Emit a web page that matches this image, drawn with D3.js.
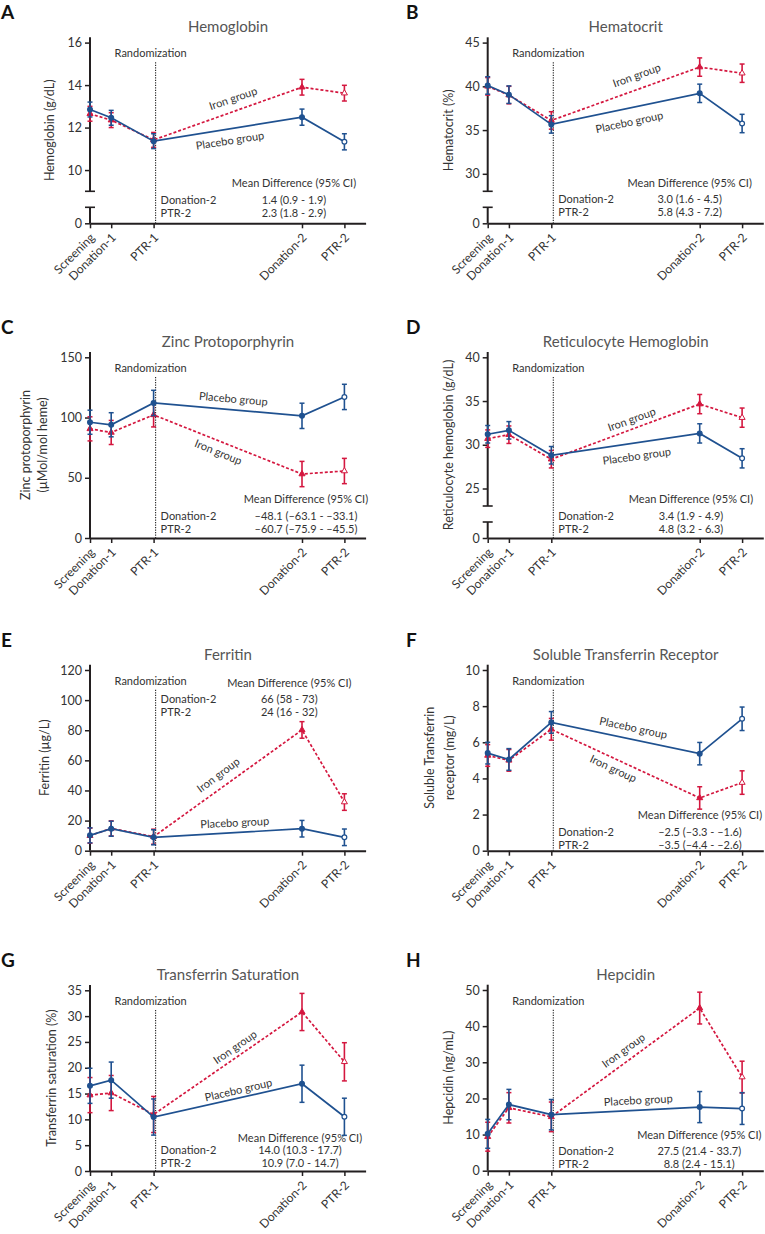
<!DOCTYPE html>
<html><head><meta charset="utf-8">
<script src="https://cdn.jsdelivr.net/npm/d3@7"></script>
<style>
body{margin:0;background:#fff}
svg{display:block}
text{font-family:Lato,"Open Sans",sans-serif}
</style>
</head><body>
<svg id="chart" width="765" height="1234"></svg>
<script>
// ---------- data ----------
const timepoints = ["Screening", "Donation-1", "PTR-1", "Donation-2", "PTR-2"];
const timeOffsets = [0, 1, 3, 10, 12];

const hbPlacebo = [12.85, 12.46, 11.36, 12.49, 11.33];
const hbPlaceboErr = [0.35, 0.35, 0.35, 0.38, 0.38];
const hbIron = [12.65, 12.35, 11.42, 13.9, 13.62];
const hbIronErr = [0.35, 0.35, 0.35, 0.37, 0.37];

const hctPlacebo = [40.1, 39.05, 35.65, 39.2, 35.75];
const hctPlaceboErr = [1.0, 1.0, 1.0, 1.05, 1.05];
const hctIron = [40.0, 39.0, 36.1, 42.2, 41.5];
const hctIronErr = [1.0, 1.0, 1.0, 1.05, 1.05];

const zppPlacebo = [96.1, 94.0, 112.1, 101.4, 117.1];
const zppPlaceboErr = [10, 10, 10.5, 10.5, 10.5];
const zppIron = [90.6, 87.6, 102.2, 53.1, 55.6];
const zppIronErr = [10, 10, 10, 10.5, 10.5];

const retPlacebo = [31.2, 31.65, 28.8, 31.3, 28.45];
const retPlaceboErr = [1.0, 1.0, 1.0, 1.1, 1.1];
const retIron = [30.7, 31.15, 28.35, 34.65, 33.1];
const retIronErr = [1.0, 1.0, 1.0, 1.1, 1.1];

const ferPlacebo = [10.2, 14.6, 8.9, 14.6, 8.9];
const ferPlaceboErr = [5, 5, 5, 5.5, 5.5];
const ferIron = [10.0, 14.8, 9.3, 80.2, 32.3];
const ferIronErr = [5, 5, 5, 5.5, 5.5];

const stfrPlacebo = [5.4, 5.05, 7.1, 5.37, 7.3];
const stfrPlaceboErr = [0.6, 0.6, 0.6, 0.62, 0.65];
const stfrIron = [5.27, 5.0, 6.72, 2.92, 3.77];
const stfrIronErr = [0.6, 0.6, 0.6, 0.62, 0.65];

const tsatPlacebo = [16.5, 17.6, 10.45, 16.9, 10.5];
const tsatPlaceboErr = [3.4, 3.5, 3.5, 3.6, 3.6];
const tsatIron = [14.7, 15.1, 10.95, 30.8, 21.15];
const tsatIronErr = [3.4, 3.4, 3.5, 3.6, 3.7];

const hepPlacebo = [10.2, 18.3, 15.5, 17.6, 17.2];
const hepPlaceboErr = [4.0, 4.2, 4.2, 4.3, 4.4];
const hepIron = [9.4, 17.4, 14.9, 45.0, 25.9];
const hepIronErr = [4.0, 4.2, 4.1, 4.4, 4.4];

const diffRowLabels = ["Donation-2", "PTR-2"];
const diffHeader = "Mean Difference (95% CI)";

const hbTicks = [10, 12, 14, 16];
const hctTicks = [30, 35, 40, 45];
const zppTicks = [0, 50, 100, 150];
const retTicks = [25, 30, 35, 40];
const ferTicks = [0, 20, 40, 60, 80, 100, 120];
const stfrTicks = [0, 2, 4, 6, 8, 10];
const tsatTicks = [0, 5, 10, 15, 20, 25, 30, 35];
const hepTicks = [0, 10, 20, 30, 40, 50];

const panels = [
  {letter:"A", title:"Hemoglobin", ylabel:["Hemoglobin (g/dL)"], ticks:hbTicks, breakAt:9,
   placebo:hbPlacebo, placeboErr:hbPlaceboErr, iron:hbIron, ironErr:hbIronErr,
   diff:["1.4 (0.9 - 1.9)", "2.3 (1.8 - 2.9)"]},
  {letter:"B", title:"Hematocrit", ylabel:["Hematocrit (%)"], ticks:hctTicks, breakAt:28,
   placebo:hctPlacebo, placeboErr:hctPlaceboErr, iron:hctIron, ironErr:hctIronErr,
   diff:["3.0 (1.6 - 4.5)", "5.8 (4.3 - 7.2)"]},
  {letter:"C", title:"Zinc Protoporphyrin", ylabel:["Zinc protoporphyrin", "(\u00b5Mol/mol heme)"], ticks:zppTicks, breakAt:null,
   placebo:zppPlacebo, placeboErr:zppPlaceboErr, iron:zppIron, ironErr:zppIronErr,
   diff:["\u201348.1 (\u201363.1 - \u201333.1)", "\u201360.7 (\u201375.9 - \u201345.5)"]},
  {letter:"D", title:"Reticulocyte Hemoglobin", ylabel:["Reticulocyte hemoglobin (g/dL)"], ticks:retTicks, breakAt:23,
   placebo:retPlacebo, placeboErr:retPlaceboErr, iron:retIron, ironErr:retIronErr,
   diff:["3.4 (1.9 - 4.9)", "4.8 (3.2 - 6.3)"]},
  {letter:"E", title:"Ferritin", ylabel:["Ferritin (\u00b5g/L)"], ticks:ferTicks, breakAt:null,
   placebo:ferPlacebo, placeboErr:ferPlaceboErr, iron:ferIron, ironErr:ferIronErr,
   diff:["66 (58 - 73)", "24 (16 - 32)"]},
  {letter:"F", title:"Soluble Transferrin Receptor", ylabel:["Soluble Transferrin", "receptor (mg/L)"], ticks:stfrTicks, breakAt:null,
   placebo:stfrPlacebo, placeboErr:stfrPlaceboErr, iron:stfrIron, ironErr:stfrIronErr,
   diff:["\u20132.5 (\u20133.3 - \u20131.6)", "\u20133.5 (\u20134.4 - \u20132.6)"]},
  {letter:"G", title:"Transferrin Saturation", ylabel:["Transferrin saturation (%)"], ticks:tsatTicks, breakAt:null,
   placebo:tsatPlacebo, placeboErr:tsatPlaceboErr, iron:tsatIron, ironErr:tsatIronErr,
   diff:["14.0 (10.3 - 17.7)", "10.9 (7.0 - 14.7)"]},
  {letter:"H", title:"Hepcidin", ylabel:["Hepcidin (ng/mL)"], ticks:hepTicks, breakAt:null,
   placebo:hepPlacebo, placeboErr:hepPlaceboErr, iron:hepIron, ironErr:hepIronErr,
   diff:["27.5 (21.4 - 33.7)", "8.8 (2.4 - 15.1)"]}
];

// ---------- layout (positions / styles only) ----------
const layout = [
  {col:0, bottom:223.3, ylabX:[-40], diffX:204, headDy:-40, rowDy:-23,
   ironLab:{w:6.75, v:13.37, r:-19}, placLab:{w:6.6, v:11.39, r:-9}},
  {col:1, bottom:223.3, ylabX:[-39.4], diffX:202, headDy:-40.6, rowDy:-24,
   ironLab:{w:7.03, v:41.26, r:-20}, placLab:{w:6.68, v:35.9, r:-12}},
  {col:0, bottom:538, ylabX:[-64,-47], diffX:216, headDy:-38.7, rowDy:-21.7,
   ironLab:{w:6.05, v:71.3, r:22}, placLab:{w:6.76, v:115.5, r:5}},
  {col:1, bottom:538, ylabX:[-39.4], diffX:203.3, headDy:-38.7, rowDy:-21.7,
   ironLab:{w:6.79, v:32.9, r:-20}, placLab:{w:7.03, v:28.7, r:-8}},
  {col:0, bottom:850.7, ylabX:[-45], diffX:199.3, headDy:-168, rowDy:-151.4,
   ironLab:{w:6.05, v:50.3, r:-37}, placLab:{w:6.83, v:18.6, r:-3}},
  {col:1, bottom:850.7, ylabX:[-57.7,-37.7], diffX:212.3, headDy:-36, rowDy:-19,
   ironLab:{w:5.92, v:4.54, r:25}, placLab:{w:6.87, v:6.8, r:12}},
  {col:0, bottom:1171, ylabX:[-38.3], diffX:210, headDy:-33.3, rowDy:-21,
   ironLab:{w:6.84, v:24.0, r:-35}, placLab:{w:7.0, v:15.7, r:-13}},
  {col:1, bottom:1170.7, ylabX:[-39.4], diffX:211.6, headDy:-35.7, rowDy:-20,
   ironLab:{w:6.4, v:33.25, r:-36}, placLab:{w:7.1, v:19.5, r:-3}}
];

const BLUE = "#1f5190";
const RED = "#d4173f";
const AXIS = "#231f20";
const PLOT_H = 186;
const X_W = 275.6;

const svg = d3.select("#chart");

panels.forEach((p, i) => {
  const L = layout[i];
  const ax = L.col === 0 ? 90 : 487.7;
  const B = L.bottom;
  const T = B - PLOT_H;
  const g = svg.append("g");

  const x = d3.scaleLinear().domain([0, 13]).range([ax, ax + X_W]);
  const maxTick = d3.max(p.ticks);
  const y = p.breakAt !== null
    ? d3.scaleLinear().domain([p.breakAt, maxTick]).range([B - 32, T + 5.3])
    : d3.scaleLinear().domain([0, maxTick]).range([B, T + 5.3]);

  // panel letter
  g.append("text").attr("x", L.col === 0 ? 1 : 406).attr("y", T - 18)
    .attr("font-family", "Liberation Sans, Arial, sans-serif")
    .attr("font-weight", "bold").attr("font-size", 19).attr("fill", "#111")
    .text(p.letter);

  // title
  g.append("text").attr("x", ax + 138).attr("y", T - 5)
    .attr("text-anchor", "middle").attr("font-size", 15).attr("fill", "#555")
    .text(p.title);

  // y axis
  const yAxis = g.append("g").attr("transform", `translate(${ax},0)`)
    .call(d3.axisLeft(y).tickValues(p.ticks).tickSize(5).tickPadding(3).tickFormat(d3.format("d")));
  yAxis.select(".domain").remove();
  if (p.breakAt !== null) {
    const yLow = d3.scaleLinear().domain([0, 1]).range([B, B - 16]);
    const yAxisLow = g.append("g").attr("transform", `translate(${ax},0)`)
      .call(d3.axisLeft(yLow).tickValues([0]).tickSize(5).tickPadding(3).tickFormat(d3.format("d")));
    yAxisLow.select(".domain").remove();
    g.append("line").attr("x1", ax).attr("x2", ax).attr("y1", T).attr("y2", B - 32)
      .attr("stroke", AXIS).attr("stroke-width", 2);
    g.append("line").attr("x1", ax).attr("x2", ax).attr("y1", B - 16).attr("y2", B)
      .attr("stroke", AXIS).attr("stroke-width", 2);
    [B - 32, B - 16].forEach(yy => g.append("line")
      .attr("x1", ax - 5).attr("x2", ax + 5).attr("y1", yy).attr("y2", yy)
      .attr("stroke", AXIS).attr("stroke-width", 1.6));
  } else {
    g.append("line").attr("x1", ax).attr("x2", ax).attr("y1", T).attr("y2", B)
      .attr("stroke", AXIS).attr("stroke-width", 2);
  }
  g.selectAll(".tick line").attr("stroke", AXIS).attr("stroke-width", 1.5);
  g.selectAll(".tick text").attr("font-size", 12.5).attr("fill", "#333")
    .attr("font-family", "Lato, sans-serif");

  // x axis
  const xAxis = g.append("g").attr("transform", `translate(0,${B})`)
    .call(d3.axisBottom(x).tickValues(timeOffsets).tickSize(5).tickSizeOuter(0)
      .tickFormat((d, k) => timepoints[k]));
  xAxis.select(".domain").attr("stroke", AXIS).attr("stroke-width", 2);
  xAxis.selectAll(".tick line").attr("stroke", AXIS).attr("stroke-width", 1.5);
  xAxis.selectAll(".tick text")
    .attr("font-size", 12).attr("fill", "#333").attr("font-family", "Lato, sans-serif")
    .attr("text-anchor", "end").attr("y", 0).attr("dy", "0.35em")
    .attr("transform", "translate(2,12) rotate(-45)");

  // y label
  const yMid = (T + B) / 2;
  p.ylabel.forEach((t, k) => {
    g.append("text")
      .attr("transform", `translate(${ax + L.ylabX[k]},${yMid}) rotate(-90)`)
      .attr("text-anchor", "middle").attr("dy", "0.35em")
      .attr("font-size", 12.5).attr("fill", "#333").text(t);
  });

  // randomization
  const rx = x(timeOffsets[2]) + 2;
  g.append("line").attr("x1", rx).attr("x2", rx).attr("y1", T + 25).attr("y2", B)
    .attr("stroke", "#222").attr("stroke-width", 1.1).attr("stroke-dasharray", "1.2,1.3");
  g.append("text").attr("x", x(timeOffsets[2]) - 3).attr("y", T + 20)
    .attr("text-anchor", "middle").attr("font-size", 11).attr("fill", "#333")
    .text("Randomization");

  // mean difference block
  g.append("text").attr("x", ax + L.diffX).attr("y", B + L.headDy).attr("dy", "0.35em")
    .attr("text-anchor", "middle").attr("font-size", 11).attr("fill", "#333").text(diffHeader);
  diffRowLabels.forEach((lab, k) => {
    const yy = B + L.rowDy + k * 13.3;
    g.append("text").attr("x", rx + 5).attr("y", yy).attr("dy", "0.35em")
      .attr("font-size", 11).attr("fill", "#333").text(lab);
    g.append("text").attr("x", ax + L.diffX).attr("y", yy).attr("dy", "0.35em")
      .attr("text-anchor", "middle").attr("font-size", 11).attr("fill", "#333").text(p.diff[k]);
  });

  // series
  const series = [
    {vals:p.iron, errs:p.ironErr, color:RED, dash:"3,2", shape:"tri"},
    {vals:p.placebo, errs:p.placeboErr, color:BLUE, dash:null, shape:"circle"}
  ];
  series.forEach(s => {
    const pts = s.vals.map((v, k) => ({t:timeOffsets[k], v, e:s.errs[k], k}));
    const line = d3.line().x(d => x(d.t)).y(d => y(d.v));
    const path = g.append("path").datum(pts).attr("d", line)
      .attr("fill", "none").attr("stroke", s.color).attr("stroke-width", 1.7);
    if (s.dash) path.attr("stroke-dasharray", s.dash);
    const eb = g.append("g");
    pts.forEach(d => {
      eb.append("line").attr("x1", x(d.t)).attr("x2", x(d.t))
        .attr("y1", y(d.v - d.e)).attr("y2", y(d.v + d.e))
        .attr("stroke", s.color).attr("stroke-width", 1.6);
      [d.v - d.e, d.v + d.e].forEach(vv => eb.append("line")
        .attr("x1", x(d.t) - 2.5).attr("x2", x(d.t) + 2.5)
        .attr("y1", y(vv)).attr("y2", y(vv))
        .attr("stroke", s.color).attr("stroke-width", 1.5));
      const open = d.k === 4;
      if (s.shape === "circle") {
        eb.append("circle").attr("cx", x(d.t)).attr("cy", y(d.v)).attr("r", 2.4)
          .attr("fill", open ? "#fff" : s.color).attr("stroke", s.color).attr("stroke-width", 1.2);
      } else {
        eb.append("path").attr("d", d3.symbol(d3.symbolTriangle, 16)())
          .attr("transform", `translate(${x(d.t)},${y(d.v)})`)
          .attr("fill", open ? "#fff" : s.color).attr("stroke", s.color).attr("stroke-width", 1);
      }
    });
  });

  // line labels
  [[L.ironLab, "Iron group"], [L.placLab, "Placebo group"]].forEach(([lab, txt]) => {
    g.append("text")
      .attr("transform", `translate(${x(lab.w)},${y(lab.v)}) rotate(${lab.r})`)
      .attr("text-anchor", "middle").attr("dy", "0.35em")
      .attr("font-size", 11).attr("fill", "#333").text(txt);
  });
});
</script>
</body></html>
